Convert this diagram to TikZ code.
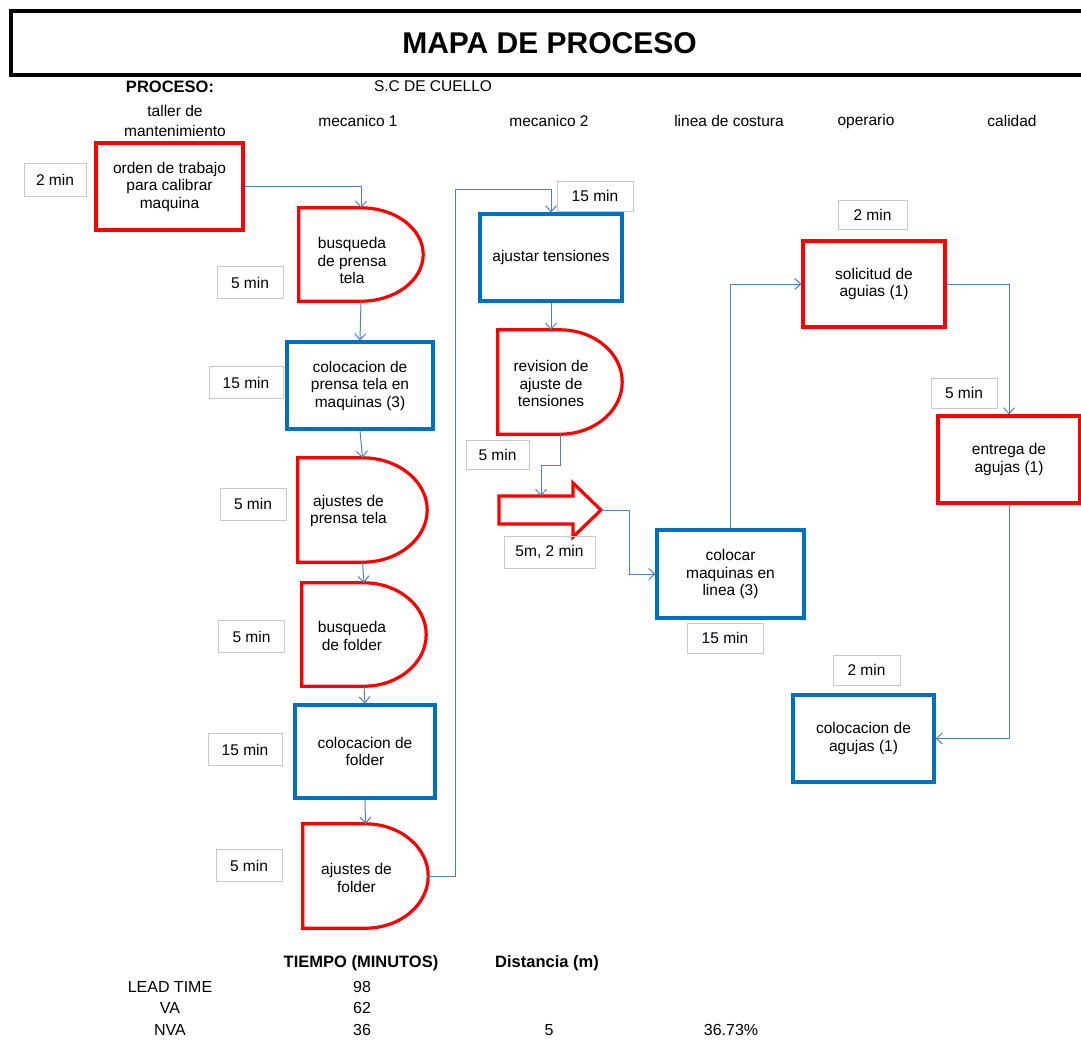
\documentclass[tikz,border=0pt]{standalone}
\usepackage{fontspec}
\setmainfont{Liberation Sans}
\usetikzlibrary{arrows.meta,calc}
\definecolor{rojo}{RGB}{255,0,0}
\definecolor{azulcaja}{RGB}{0,112,192}
\definecolor{azullinea}{RGB}{79,129,189}
\definecolor{grisborde}{RGB}{200,200,200}
\newcommand{\formaD}[1]{%
  \draw[draw=rojo,line width=3.2pt] let \p1=(#1.north west), \p2=(#1.south east) in
    (\x1,\y2) -- (\x1,\y1) -- ({(\x1+\x2)/2},\y1)
    arc[start angle=90,end angle=-90,x radius={(\x2-\x1)/2},y radius={(\y1-\y2)/2}] -- cycle;}

\begin{document}
\begin{tikzpicture}[x=1pt,y=-1pt,
    font=\fontsize{15.5}{17.5}\selectfont,
    caja/.style={rectangle,align=center,inner sep=0pt,minimum width=146pt,minimum height=87pt},
    cajaroja/.style={caja,draw=rojo,line width=3.2pt},
    cajaazul/.style={caja,draw=azulcaja,line width=3.2pt},
    retraso/.style={rectangle,inner sep=0pt,minimum width=125pt,minimum height=104pt},
    textoD/.style={align=center},
    tiempo/.style={rectangle,draw=grisborde,line width=1pt,inner sep=0pt,minimum width=66pt,minimum height=32pt},
    flecha/.style={draw=azullinea,line width=1pt,-{Straight Barb[length=6pt,width=11pt]}},
    tabla/.style={font=\fontsize{16}{19}\selectfont},
    tablab/.style={font=\fontsize{16.5}{19}\selectfont\bfseries}]
    \useasboundingbox (0,0) rectangle (1081,1042);
    \node[draw,line width=4pt,minimum width=1077pt,minimum height=64.5pt,font=\fontsize{30}{36}\selectfont\bfseries] (titulo) at (549.5,42.75) {MAPA DE PROCESO};
    \node[font=\fontsize{16.5}{19}\selectfont\bfseries] (proceso) at (170,87) {PROCESO:};
    \node (nombre) at (433,86) {S.C DE CUELLO};
    \node[align=center] (taller) at (175,121) {taller de\\[2pt]mantenimiento};
    \node (mec1) at (358,121) {mecanico 1};
    \node (mec2) at (549,121) {mecanico 2};
    \node (costura) at (729,121) {linea de costura};
    \node (operario) at (866,121) {operario};
    \node (calidad) at (1012,121) {calidad};

    \node[cajaroja,minimum width=147pt] (orden) at (169.5,186.5) {orden de trabajo\\para calibrar\\maquina};
    \node[tiempo,minimum width=62pt,minimum height=33pt] (torden) at (55,179.5) {2 min};
    \node[retraso,minimum width=124pt,minimum height=93pt,label={[textoD,xshift=-9pt,yshift=-6pt]center:{busqueda\\de prensa\\tela}}] (bprensa) at (361,254.5) {};
    \formaD{bprensa}
    \node[tiempo] (tbprensa) at (250,282.5) {5 min};
    \node[cajaazul] (cprensa) at (360,385.5) {colocacion de\\prensa tela en\\maquinas (3)};
    \node[tiempo,minimum width=74pt] (tcprensa) at (246,382.5) {15 min};
    \node[retraso,minimum width=129pt,label={[textoD,xshift=-14pt,yshift=-1pt]center:{ajustes de\\prensa tela}}] (aprensa) at (362.5,510) {};
    \formaD{aprensa}
    \node[tiempo] (taprensa) at (253,504) {5 min};
    \node[retraso,minimum width=124pt,minimum height=103pt,label={[textoD,xshift=-12pt,yshift=-1.5pt]center:{busqueda\\de folder}}] (bfolder) at (364,634.5) {};
    \formaD{bfolder}
    \node[tiempo] (tbfolder) at (251.5,636.5) {5 min};
    \node[cajaazul,minimum width=140pt,minimum height=93pt] (cfolder) at (365,751.5) {colocacion de\\folder};
    \node[tiempo,minimum width=74pt] (tcfolder) at (245,749.5) {15 min};
    \node[retraso,label={[textoD,xshift=-9pt,yshift=-2pt]center:{ajustes de\\folder}}] (afolder) at (365.5,876) {};
    \formaD{afolder}
    \node[tiempo] (tafolder) at (249,865.5) {5 min};

    \node[cajaazul,minimum width=142pt] (atens) at (551,257.5) {ajustar tensiones};
    \node[tiempo,minimum width=76pt,minimum height=30pt] (tatens) at (595,196) {15 min};
    \node[retraso,minimum width=124pt,label={[textoD,xshift=-9pt,yshift=-1.5pt]center:{revision de\\ajuste de\\tensiones}}] (rtens) at (560,382) {};
    \formaD{rtens}
    \node[tiempo,minimum width=63pt,minimum height=29pt] (trtens) at (497.5,454.5) {5 min};
    \node[rectangle,inner sep=0pt,minimum width=102pt,minimum height=54pt] (transp) at (550,510) {};
    \draw[draw=rojo,line width=3.2pt,shift={(transp.center)}] (-51,-14) -- (23,-14) -- (23,-27) -- (51,0) -- (23,27) -- (23,14) -- (-51,14) -- cycle;
    \coordinate (transparriba) at ($(transp.center)+(-9,-14)$);
    \node[tiempo,minimum width=91pt] (ttransp) at (549.5,552) {5m, 2 min};

    \node[cajaazul,minimum width=147pt,minimum height=88pt] (colmaq) at (730.5,574) {colocar\\maquinas en\\linea (3)};
    \node[tiempo,minimum width=76pt,minimum height=30pt] (tcolmaq) at (725,638) {15 min};
    \node[cajaroja,minimum width=142pt,minimum height=86pt] (solag) at (874,284) {solicitud de\\aguias (1)};
    \node[tiempo,minimum width=69pt,minimum height=29pt] (tsolag) at (872.5,214.5) {2 min};
    \node[cajaroja,minimum width=142pt] (entag) at (1009,459.5) {entrega de\\agujas (1)};
    \node[tiempo,minimum height=30pt] (tentag) at (964,393) {5 min};
    \node[cajaazul,minimum width=141pt] (colag) at (863.5,738.5) {colocacion de\\agujas (1)};
    \node[tiempo,minimum width=67pt,minimum height=30pt] (tcolag) at (866.5,670) {2 min};

    \draw[flecha] (orden.east) -| (bprensa.north);
    \draw[flecha] (bprensa.south) -- (cprensa.north);
    \draw[flecha] (cprensa.south) -- (aprensa.north);
    \draw[flecha] (aprensa.south) -- (bfolder.north);
    \draw[flecha] (bfolder.south) -- (cfolder.north);
    \draw[flecha] (cfolder.south) -- (afolder.north);
    \draw[flecha] (afolder.east) -| ++(27,-687) -| (atens.north);
    \draw[flecha] (atens.south) -- (atens.south |- rtens.north);
    \draw[flecha] (rtens.south) -- ++(0,31) -| (transparriba);
    \draw[flecha] (transp.east) -- ++(28,0) |- (colmaq.west);
    \draw[flecha] (colmaq.north) |- (solag.west);
    \draw[flecha] (solag.east) -| (entag.north);
    \draw[flecha] (entag.south) |- (colag.east);

    \node[tablab] (htiempo) at (361,963) {TIEMPO (MINUTOS)};
    \node[tablab] (hdist) at (547,963) {Distancia (m)};
    \node[tabla] (lead) at (170,987) {LEAD TIME};
    \node[tabla] (vlead) at (362,987) {98};
    \node[tabla] (va) at (170,1008) {VA};
    \node[tabla] (vva) at (362,1008) {62};
    \node[tabla] (nva) at (170,1030) {NVA};
    \node[tabla] (vnva) at (362,1030) {36};
    \node[tabla] (dnva) at (549,1030) {5};
    \node[tabla] (pnva) at (731,1030) {36.73\%};
\end{tikzpicture}
\end{document}
